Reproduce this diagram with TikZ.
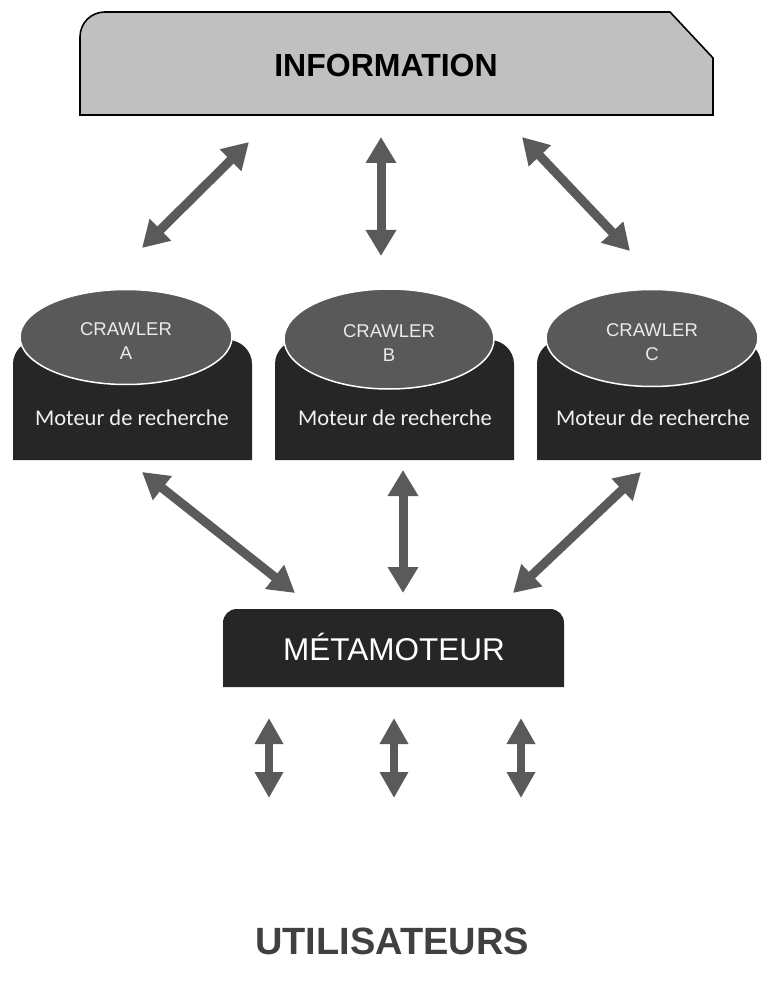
\documentclass[tikz,border=0pt]{standalone}
\usepackage{fontspec}
\setmainfont{Liberation Sans}
\newfontfamily\calfont{Carlito}
\usetikzlibrary{arrows.meta,shapes.geometric}

\definecolor{arrowgray}{HTML}{5A5A5A}
\definecolor{boxdark}{HTML}{262626}
\definecolor{crawlgray}{HTML}{595959}
\definecolor{infogray}{HTML}{C0C0C0}
\definecolor{usergray}{HTML}{404040}

\tikzset{
  biarrow/.style={draw=arrowgray, line width=9pt,
    {Triangle[width=29pt,length=26pt]}-{Triangle[width=29pt,length=26pt]}},
  smallarrow/.style={draw=arrowgray, line width=8.5pt,
    {Triangle[width=27pt,length=26pt]}-{Triangle[width=27pt,length=26pt]}},
  engine/.style={fill=boxdark},
  crawler/.style={ellipse, fill=crawlgray, draw=white, line width=1.5pt,
    inner sep=0pt, text=white!92!black, align=center, text height=45pt,
    font=\fontsize{18.5}{24}\selectfont},
  moteur/.style={text=white!95!black, font=\calfont\fontsize{22.5}{27}\selectfont},
}

\begin{document}
\begin{tikzpicture}[x=1pt,y=-1pt]
    \useasboundingbox (0,0) rectangle (761,992);

    % top box
    \draw[fill=infogray, line width=1.6pt] (80,115) -- (80,37)
      .. controls (80,23) and (91,12) .. (105,12)
      -- (670,12) -- (713,58) -- (713,115) -- cycle;
    \node[font=\bfseries\fontsize{32}{36}\selectfont] (info) at (386,65) {INFORMATION};

    % search engines with their crawlers
    \foreach \l/\r in {13/252, 275/514, 537/761} {
      \fill[engine] (\l,460) -- (\l,364) .. controls (\l,351) and ({\l+11},340) .. ({\l+24},340)
        -- ({\r-24},340) .. controls ({\r-11},340) and (\r,351) .. (\r,364) -- (\r,460) -- cycle;
    }
    \node[crawler, minimum width=212pt, minimum height=95pt] (ca) at (126,337) {CRAWLER\\A};
    \node[crawler, minimum width=210pt, minimum height=100pt] (cb) at (389,339) {CRAWLER\\B};
    \node[crawler, minimum width=212pt, minimum height=97pt] (cc) at (652,338) {CRAWLER\\C};
    \node[moteur] (ma) at (132,418) {Moteur de recherche};
    \node[moteur] (mb) at (395,418) {Moteur de recherche};
    \node[moteur] (mc) at (653,418) {Moteur de recherche};

    % meta engine
    \fill[boxdark] (223,687) -- (223,623) .. controls (223,615) and (229,609) .. (237,609)
      -- (550,609) .. controls (558,609) and (564,615) .. (564,623) -- (564,687) -- cycle;
    \node[text=white, font=\fontsize{31.5}{36}\selectfont] (meta) at (394,647) {MÉTAMOTEUR};

    \node[text=usergray, font=\bfseries\fontsize{38}{44}\selectfont] (users) at (392,941) {UTILISATEURS};

    % arrow ends
    \coordinate (i1) at (249,142);
    \coordinate (i2) at (381,137);
    \coordinate (i3) at (522,137);
    \coordinate (c1) at (142,248);
    \coordinate (c2) at (381,256);
    \coordinate (c3) at (630,251);
    \coordinate (e1) at (142,472);
    \coordinate (e2) at (403,470);
    \coordinate (e3) at (641,472);
    \coordinate (m1) at (295,593);
    \coordinate (m2) at (403,593);
    \coordinate (m3) at (513,593);
    \coordinate (u1) at (269,718);
    \coordinate (u2) at (394,718);
    \coordinate (u3) at (521,718);
    \coordinate (v1) at (269,798);
    \coordinate (v2) at (394,798);
    \coordinate (v3) at (521,798);

    \foreach \a/\b in {i1/c1, i2/c2, i3/c3, e1/m1, e2/m2, e3/m3}
      \draw[biarrow] (\a) -- (\b);
    \foreach \a/\b in {u1/v1, u2/v2, u3/v3}
      \draw[smallarrow] (\a) -- (\b);
\end{tikzpicture}
\end{document}
